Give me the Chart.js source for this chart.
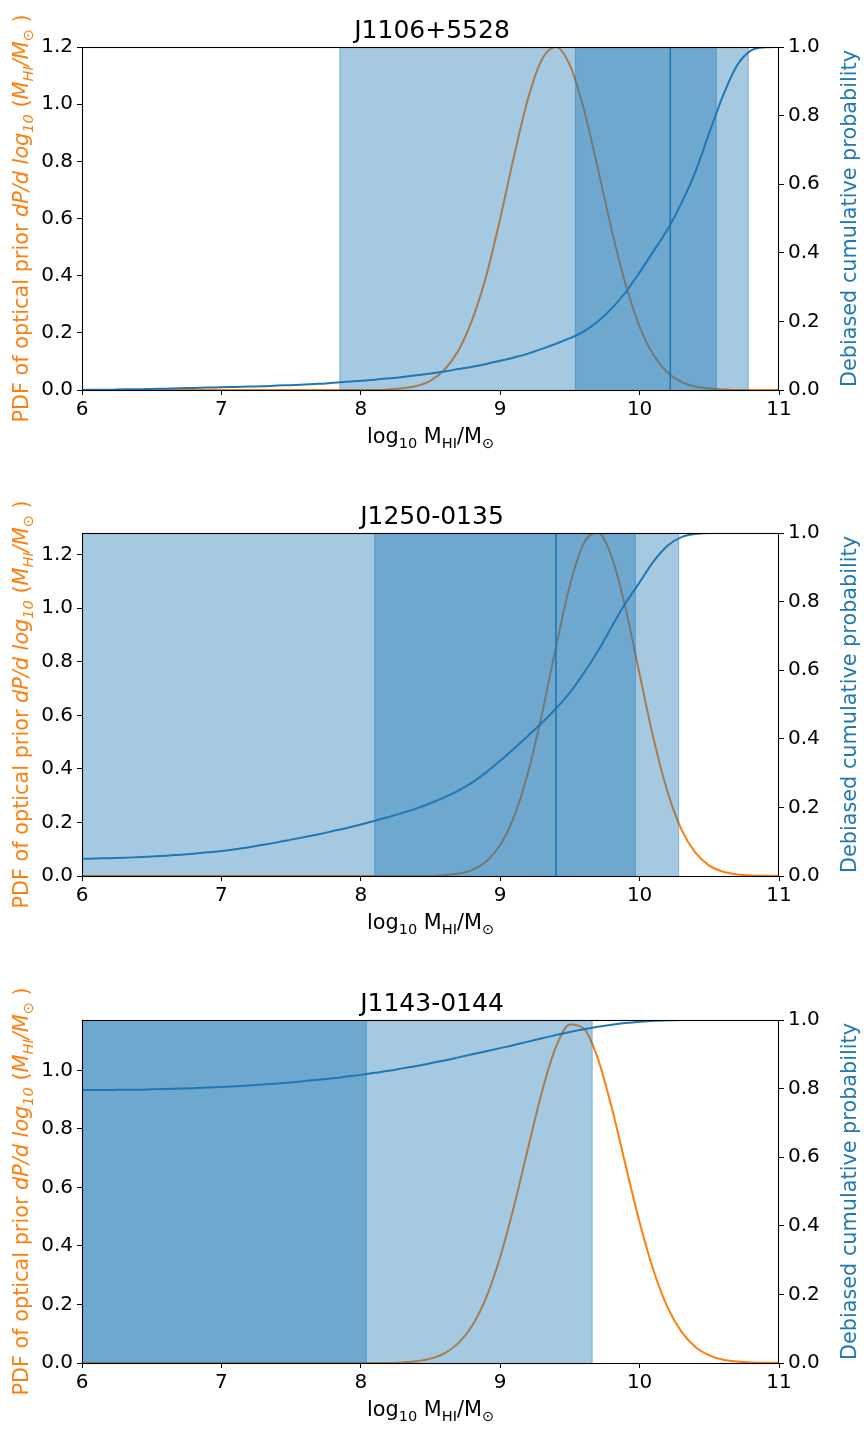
<!DOCTYPE html>
<html>
<head>
<meta charset="utf-8">
<style>
html, body { margin: 0; padding: 0; background: #fff; }
#wrap { position: relative; width: 864px; height: 1432px; overflow: hidden; }
#wrap canvas { position: absolute; left: 0; }
</style>
<script src="https://cdn.jsdelivr.net/npm/chart.js"></script>
</head>
<body>
<div id="wrap">
  <canvas id="c0" width="864" height="459" style="top:0px"></canvas>
  <canvas id="c1" width="864" height="459" style="top:486px"></canvas>
  <canvas id="c2" width="864" height="459" style="top:973px"></canvas>
</div>
<script>
// ==================== Data ====================
const xGrid = [6.0, 6.1, 6.2, 6.3, 6.4, 6.5, 6.6, 6.7, 6.8, 6.9,
               7.0, 7.1, 7.2, 7.3, 7.4, 7.5, 7.6, 7.7, 7.8, 7.9,
               8.0, 8.1, 8.2, 8.3, 8.4, 8.5, 8.6, 8.7, 8.8, 8.9,
               9.0, 9.1, 9.2, 9.3, 9.4, 9.5, 9.6, 9.7, 9.8, 9.9,
               10.0, 10.1, 10.2, 10.3, 10.4, 10.5, 10.6, 10.7, 10.8, 10.9, 11.0];

const titles = ["J1106+5528", "J1250-0135", "J1143-0144"];

// optical prior PDF (left axis)
const pdfJ1106 = [0, 0, 0, 0, 0, 0, 0, 0, 0, 0,
                  0, 0, 0, 0, 0, 0, 0, 0, 0, 0,
                  0, 0, 0.002, 0.006, 0.014, 0.033, 0.071, 0.138, 0.247, 0.40,
                  0.60, 0.82, 1.02, 1.157, 1.20, 1.136, 0.983, 0.776, 0.56, 0.369,
                  0.222, 0.122, 0.061, 0.028, 0.012, 0.005, 0.002, 0, 0, 0, 0];
const pdfJ1250 = [0, 0, 0, 0, 0, 0, 0, 0, 0, 0,
                  0, 0, 0, 0, 0, 0, 0, 0, 0, 0,
                  0, 0, 0, 0, 0, 0, 0.003, 0.009, 0.023, 0.054,
                  0.116, 0.223, 0.387, 0.606, 0.855, 1.086, 1.243, 1.283, 1.192, 0.999,
                  0.754, 0.513, 0.315, 0.174, 0.087, 0.039, 0.016, 0.006, 0.002, 0.001, 0];
const pdfJ1143 = [0, 0, 0, 0, 0, 0, 0, 0, 0, 0,
                  0, 0, 0, 0, 0, 0, 0, 0, 0, 0,
                  0, 0, 0, 0.002, 0.006, 0.015, 0.033, 0.068, 0.128, 0.224,
                  0.362, 0.537, 0.735, 0.928, 1.080, 1.157, 1.143, 1.041, 0.873, 0.675,
                  0.481, 0.316, 0.191, 0.107, 0.055, 0.026, 0.011, 0.005, 0.002, 0.001, 0];

// debiased cumulative probability (right axis)
const cdfJ1106 = [0.000, 0.001, 0.001, 0.002, 0.002, 0.003, 0.004, 0.005, 0.006, 0.007,
                  0.008, 0.009, 0.010, 0.011, 0.013, 0.014, 0.016, 0.018, 0.021, 0.024,
                  0.027, 0.030, 0.034, 0.038, 0.043, 0.048, 0.054, 0.061, 0.068, 0.076,
                  0.085, 0.095, 0.106, 0.120, 0.135, 0.151, 0.171, 0.200, 0.238, 0.285,
                  0.343, 0.405, 0.468, 0.545, 0.636, 0.750, 0.860, 0.947, 0.990, 0.999, 1.000];
const cdfJ1250 = [0.050, 0.051, 0.052, 0.053, 0.055, 0.057, 0.059, 0.062, 0.065, 0.069,
                  0.073, 0.078, 0.084, 0.091, 0.098, 0.106, 0.114, 0.122, 0.131, 0.140,
                  0.150, 0.161, 0.172, 0.184, 0.197, 0.212, 0.229, 0.249, 0.273, 0.302,
                  0.336, 0.372, 0.409, 0.447, 0.488, 0.535, 0.592, 0.655, 0.727, 0.796,
                  0.856, 0.917, 0.963, 0.988, 0.997, 1.000, 1.000, 1.000, 1.000, 1.000, 1.000];
const cdfJ1143 = [0.796, 0.796, 0.796, 0.797, 0.797, 0.798, 0.799, 0.800, 0.801, 0.803,
                  0.805, 0.807, 0.809, 0.812, 0.815, 0.818, 0.822, 0.826, 0.830, 0.835,
                  0.840, 0.846, 0.852, 0.859, 0.866, 0.874, 0.882, 0.891, 0.900, 0.909,
                  0.918, 0.927, 0.937, 0.947, 0.956, 0.965, 0.973, 0.980, 0.986, 0.991,
                  0.995, 0.998, 0.999, 1.000, 1.000, 1.000, 1.000, 1.000, 1.000, 1.000, 1.000];

// shaded ranges [low, high] and median line (null = off the plot)
const outerBand = [[7.85, 10.78], [5.0, 10.28], [5.0, 9.66]];
const innerBand = [[9.54, 10.55], [8.10, 9.97], [5.0, 8.04]];
const medians = [10.22, 9.40, null];

// axis limits and ticks
const pdfMax = [1.2, 1.281, 1.172];
const pdfTicks = [[0, 0.2, 0.4, 0.6, 0.8, 1.0, 1.2],
                  [0, 0.2, 0.4, 0.6, 0.8, 1.0, 1.2],
                  [0, 0.2, 0.4, 0.6, 0.8, 1.0]];
const cdfTicks = [0, 0.2, 0.4, 0.6, 0.8, 1.0];
const xTicks = [6, 7, 8, 9, 10, 11];

const pdfs = [pdfJ1106, pdfJ1250, pdfJ1143];
const cdfs = [cdfJ1106, cdfJ1250, cdfJ1143];

// ==================== Styling helpers ====================
const FONT = "'DejaVu Sans', sans-serif";
const ORANGE = "#ff7f0e";
const BLUE = "#1f77b4";
const SPAN = "rgba(31,119,180,0.4)";
const LABEL_SIZE = 20.8;

// text pieces with italics / subscripts, like matplotlib mathtext
const xTitleRuns = [
    { t: "log" }, { t: "10", sub: true }, { t: " M" }, { t: "HI", sub: true },
    { t: "/M" }, { t: "\u2299", sub: true }
];
const pdfTitleRuns = [
    { t: "PDF of optical prior " }, { t: "dP/d log", it: true }, { t: "10", it: true, sub: true },
    { t: " (" }, { t: "M", it: true }, { t: "HI", it: true, sub: true }, { t: "/M", it: true },
    { t: "\u2299", sub: true }, { t: " )" }
];
const cdfTitleRuns = [{ t: "Debiased cumulative probability" }];

function runFont(r, size) {
    const s = r.sub ? size * 0.7 : size;
    return (r.it ? "italic " : "") + s + "px " + FONT;
}

function drawRuns(ctx, runs, cx, cy, rot, color, size) {
    ctx.save();
    ctx.translate(cx, cy);
    ctx.rotate(rot);
    ctx.fillStyle = color;
    ctx.textBaseline = "alphabetic";
    ctx.textAlign = "left";
    let total = 0;
    runs.forEach(r => { ctx.font = runFont(r, size); total += ctx.measureText(r.t).width; });
    let x = -total / 2;
    const base = size * 0.36;
    runs.forEach(r => {
        ctx.font = runFont(r, size);
        ctx.fillText(r.t, x, r.sub ? base + size * 0.22 : base);
        x += ctx.measureText(r.t).width;
    });
    ctx.restore();
}

// spans go above the orange curve but under the blue one
const spanPlugin = {
    id: "spans",
    afterDatasetDraw(chart, args) {
        if (args.index !== 0) return;
        const i = chart.options.panelIndex;
        const { ctx, chartArea: a } = chart;
        const xs = chart.scales.x;
        ctx.save();
        const band = ([lo, hi]) => {
            const x0 = Math.max(a.left, xs.getPixelForValue(lo));
            const x1 = Math.min(a.right, xs.getPixelForValue(hi));
            ctx.fillStyle = SPAN;
            ctx.fillRect(x0, a.top, x1 - x0, a.bottom - a.top);
            ctx.strokeStyle = SPAN;
            ctx.lineWidth = 1.2;
            [lo, hi].forEach(v => {
                if (v <= 6 || v >= 11) return;
                const p = xs.getPixelForValue(v);
                ctx.beginPath();
                ctx.moveTo(p, a.top);
                ctx.lineTo(p, a.bottom);
                ctx.stroke();
            });
        };
        band(outerBand[i]);
        band(innerBand[i]);
        if (medians[i] !== null) {
            const p = xs.getPixelForValue(medians[i]);
            ctx.strokeStyle = BLUE;
            ctx.lineWidth = 1.6;
            ctx.beginPath();
            ctx.moveTo(p, a.top);
            ctx.lineTo(p, a.bottom);
            ctx.stroke();
        }
        ctx.restore();
    },
    afterDraw(chart) {
        const { ctx, chartArea: a } = chart;
        ctx.save();
        ctx.strokeStyle = "#000";
        ctx.lineWidth = 1.1;
        ctx.strokeRect(Math.round(a.left) + 0.5, Math.round(a.top) + 0.5,
                       Math.round(a.right - a.left) - 1, Math.round(a.bottom - a.top));
        ctx.restore();
        const midY = (a.top + a.bottom) / 2;
        drawRuns(ctx, xTitleRuns, (a.left + a.right) / 2, a.bottom + 46, 0, "#000", LABEL_SIZE);
        drawRuns(ctx, pdfTitleRuns, 21, midY, -Math.PI / 2, ORANGE, LABEL_SIZE);
        drawRuns(ctx, cdfTitleRuns, 849, midY, -Math.PI / 2, BLUE, LABEL_SIZE);
    }
};

const tickGrid = { drawOnChartArea: false, drawTicks: true, tickLength: 5, color: "#000", lineWidth: 1 };
const tickFont = { family: FONT, size: 20 };

function makeChart(i) {
    new Chart(document.getElementById("c" + i), {
        type: "line",
        data: {
            datasets: [{
                label: "PDF",
                data: xGrid.map((x, k) => ({ x: x, y: pdfs[i][k] })),
                yAxisID: "yPdf",
                borderColor: ORANGE,
                borderWidth: 2,
                pointRadius: 0,
                fill: false,
                cubicInterpolationMode: "monotone",
                order: 2
            }, {
                label: "CDF",
                data: xGrid.map((x, k) => ({ x: x, y: cdfs[i][k] })),
                yAxisID: "yCdf",
                borderColor: BLUE,
                borderWidth: 2,
                pointRadius: 0,
                fill: false,
                cubicInterpolationMode: "monotone",
                order: 1
            }]
        },
        options: {
            panelIndex: i,
            responsive: false,
            animation: false,
            layout: { padding: 0 },
            plugins: {
                legend: { display: false },
                tooltip: { enabled: false },
                title: {
                    display: true,
                    text: titles[i],
                    color: "#000",
                    font: { family: FONT, size: 25, weight: "normal" },
                    padding: { top: 16, bottom: 1 }
                }
            },
            scales: {
                x: {
                    type: "linear",
                    min: 6,
                    max: 11,
                    afterBuildTicks: s => { s.ticks = xTicks.map(v => ({ value: v })); },
                    afterFit: s => { s.height = 69; },
                    ticks: { autoSkip: false, maxRotation: 0, color: "#000", font: tickFont, padding: 3,
                             callback: v => String(v) },
                    grid: tickGrid,
                    border: { display: false }
                },
                yPdf: {
                    type: "linear",
                    position: "left",
                    min: 0,
                    max: pdfMax[i],
                    afterBuildTicks: s => { s.ticks = pdfTicks[i].map(v => ({ value: v })); },
                    afterFit: s => { s.width = 82; },
                    ticks: { color: "#000", font: tickFont, padding: 4, callback: v => v.toFixed(1) },
                    grid: tickGrid,
                    border: { display: false }
                },
                yCdf: {
                    type: "linear",
                    position: "right",
                    min: 0,
                    max: 1,
                    afterBuildTicks: s => { s.ticks = cdfTicks.map(v => ({ value: v })); },
                    afterFit: s => { s.width = 85; },
                    ticks: { color: "#000", font: tickFont, padding: 4, callback: v => v.toFixed(1) },
                    grid: tickGrid,
                    border: { display: false }
                }
            }
        },
        plugins: [spanPlugin]
    });
}

[0, 1, 2].forEach(makeChart);
</script>
</body>
</html>
